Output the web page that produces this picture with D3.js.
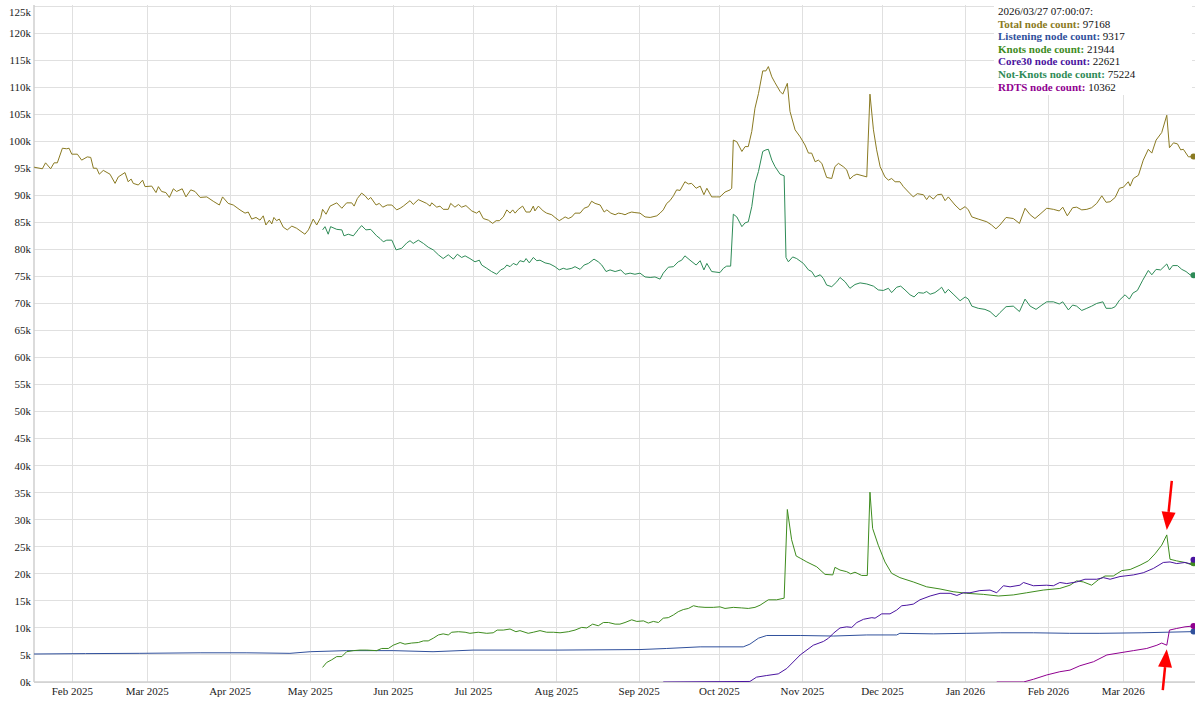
<!DOCTYPE html>
<html lang="en">
<head>
  <meta charset="utf-8">
  <title>Bitcoin node counts</title>
  <script src="https://d3js.org/d3.v7.min.js"></script>
  <style>
    body { margin: 0; background: #fff; }
    svg { display: block; font-family: "Liberation Serif", "Times New Roman", serif; }
    .grid line { stroke: #e0e0e0; stroke-width: 1; shape-rendering: crispEdges; }
    .axis-line { stroke: #cfcfcf; stroke-width: 1.5; }
    .tick-label { font-size: 11px; fill: #222; }
    .series { fill: none; stroke-width: 1; }
    .legend text { font-size: 11px; fill: #111; }
  </style>
</head>
<body>
<svg width="1200" height="702"></svg>
<script>
// points are [days since 2025-01-17 UTC, node count in thousands]
var totalData = [[0.7,95.2],[3.8,94.9],[5.0,96.0],[6.9,94.9],[8.2,96.0],[9.4,96.0],[11.3,98.7],[12.9,98.6],[13.8,98.7],[14.8,97.6],[16.9,97.6],[18.5,96.5],[20.6,97.1],[21.9,97.0],[22.9,95.0],[24.1,95.0],[25.1,93.9],[26.6,94.6],[29.1,93.9],[31.0,92.2],[32.2,93.4],[34.7,94.2],[35.9,92.5],[37.0,93.0],[37.8,92.2],[39.7,91.9],[41.3,92.8],[42.2,91.6],[44.7,91.7],[46.3,90.5],[47.2,91.6],[48.4,90.7],[50.0,90.5],[51.3,89.6],[52.8,91.2],[54.0,90.7],[56.1,91.2],[57.5,89.7],[59.3,91.0],[60.9,90.7],[62.8,89.6],[65.3,89.7],[67.7,88.9],[70.0,88.2],[71.2,89.7],[73.3,88.5],[75.2,88.2],[77.7,87.3],[79.6,86.7],[80.8,86.9],[82.1,85.6],[83.7,85.9],[85.2,85.4],[86.4,86.2],[87.4,84.5],[88.7,85.4],[89.6,84.7],[90.4,85.9],[91.4,85.3],[92.4,85.6],[93.9,84.1],[95.4,83.6],[97.1,84.3],[98.9,83.9],[102.0,82.8],[103.3,83.6],[105.1,85.6],[106.4,84.5],[107.9,85.9],[108.6,87.4],[109.9,86.5],[111.4,88.0],[113.9,88.6],[115.8,87.6],[117.6,88.6],[119.5,88.6],[120.4,88.0],[121.6,89.4],[123.2,90.4],[124.5,89.9],[125.7,89.2],[126.6,89.6],[128.6,88.2],[129.8,88.5],[131.1,87.8],[132.8,88.2],[134.5,88.2],[136.3,87.3],[137.6,87.6],[138.8,88.0],[141.3,89.0],[142.5,88.3],[144.4,89.2],[147.5,88.5],[148.8,88.0],[149.4,88.6],[151.3,87.8],[152.5,88.0],[153.7,87.4],[155.6,87.4],[156.5,88.5],[158.1,87.8],[159.4,88.3],[160.6,87.8],[162.2,88.1],[164.4,87.1],[166.2,86.7],[167.2,87.1],[168.7,85.7],[170.6,85.4],[172.2,84.8],[173.5,85.3],[174.7,85.3],[176.2,86.0],[177.5,87.3],[178.7,86.7],[179.7,87.3],[180.6,86.7],[181.8,87.4],[183.4,88.0],[184.7,86.9],[186.2,86.9],[187.4,88.0],[188.0,87.1],[189.3,88.0],[191.1,87.1],[192.4,86.7],[194.3,86.4],[195.5,85.9],[197.1,85.3],[198.4,85.7],[199.3,86.0],[200.5,85.7],[201.8,86.0],[203.0,86.7],[204.9,86.7],[206.4,87.6],[208.0,87.9],[209.2,88.9],[210.5,88.5],[212.4,88.2],[213.9,86.9],[214.9,87.3],[216.4,86.7],[218.0,86.4],[219.2,86.7],[220.5,86.6],[221.7,86.4],[222.9,86.7],[224.2,86.9],[225.4,86.8],[227.3,86.7],[229.2,86.0],[231.1,85.9],[233.6,86.2],[234.8,86.7],[236.0,87.3],[237.3,88.5],[238.5,89.0],[239.8,89.9],[241.0,91.0],[242.3,90.9],[244.1,92.5],[245.4,92.1],[246.6,92.2],[248.3,91.3],[249.8,91.7],[251.2,90.1],[252.3,91.3],[254.1,89.7],[256.0,89.7],[257.2,89.7],[259.1,90.6],[261.0,91.0],[261.6,91.3],[262.2,100.2],[263.5,99.9],[265.4,98.1],[266.6,99.0],[267.8,99.0],[269.1,101.8],[270.3,106.1],[271.6,108.8],[273.2,113.0],[274.4,113.0],[275.3,113.8],[276.6,111.9],[277.8,110.8],[279.7,109.2],[280.7,108.7],[282.4,110.7],[283.4,105.5],[285.3,102.1],[287.2,100.8],[289.0,99.3],[290.3,97.8],[291.5,97.8],[292.8,96.2],[294.0,96.5],[295.3,95.9],[297.1,93.3],[299.0,93.1],[300.2,95.3],[301.5,95.9],[303.3,95.3],[304.6,94.7],[305.8,93.0],[307.1,93.6],[308.4,93.9],[312.1,93.4],[313.3,108.7],[314.6,102.1],[315.8,98.4],[317.1,95.3],[318.9,93.4],[320.2,92.8],[321.4,93.1],[322.7,92.5],[324.5,92.5],[325.8,91.6],[327.7,90.6],[329.5,89.7],[331.0,90.3],[333.3,90.1],[334.5,89.2],[335.5,89.9],[337.0,89.3],[338.5,90.1],[340.1,90.2],[341.4,89.0],[342.6,89.7],[345.1,88.2],[347.0,87.3],[348.9,87.9],[350.1,87.3],[351.4,86.0],[353.8,85.6],[357.0,85.1],[358.8,84.5],[360.4,83.8],[361.9,84.5],[364.2,85.9],[366.9,85.7],[369.2,84.8],[371.3,87.6],[373.2,86.4],[375.0,85.7],[376.9,86.5],[379.4,87.6],[381.9,87.4],[384.1,87.1],[385.4,87.8],[387.1,86.2],[389.1,87.7],[390.6,87.8],[392.5,87.3],[394.4,87.4],[396.2,87.7],[398.1,88.5],[400.0,89.9],[401.6,88.7],[403.1,88.8],[405.0,89.6],[406.6,91.3],[408.1,91.5],[409.9,92.5],[410.6,91.7],[411.8,93.1],[413.7,93.7],[415.5,96.5],[417.4,98.5],[418.7,97.8],[420.3,100.2],[422.4,101.6],[424.3,104.8],[425.3,98.8],[426.8,99.7],[428.3,99.5],[429.5,98.4],[430.5,98.5],[432.4,97.1],[434.29,97.168]];

var listeningData = [[0.7,5.18],[20,5.25],[40,5.3],[62.8,5.4],[80,5.4],[96.4,5.3],[104,5.6],[117.6,5.8],[135,5.8],[149.9,5.6],[164.9,5.9],[196.2,5.9],[227.3,6.0],[237.3,6.2],[249.8,6.5],[265.9,6.5],[268.4,7.0],[271.6,8.1],[274.7,8.6],[287.2,8.6],[299.6,8.5],[312.1,8.7],[323.3,8.7],[324.5,9.0],[337,8.9],[349.5,9.0],[362,9.1],[374.4,9.1],[388,9.0],[399.3,9.0],[415,9.1],[434.29,9.317]];

var knotsData = [[108.6,2.7],[110.1,3.6],[112.0,4.1],[113.9,4.7],[115.8,4.7],[117.6,5.6],[120.1,5.8],[122.6,5.9],[125.1,5.9],[128.8,5.8],[130.7,6.2],[133.2,6.2],[135.0,6.8],[137.6,7.3],[139.4,7.0],[141.9,7.2],[144.4,7.3],[146.3,7.6],[148.1,7.6],[150.0,8.1],[151.9,8.7],[153.7,8.9],[155.6,8.7],[156.9,9.2],[159.4,9.3],[161.9,9.2],[163.7,9.0],[166.8,9.2],[170.0,9.0],[172.4,9.1],[173.9,9.6],[176.2,9.6],[178.7,9.8],[180.9,9.3],[182.4,9.5],[185.5,9.0],[187.4,9.2],[189.9,9.5],[192.4,9.2],[194.9,9.2],[197.4,9.1],[200.5,9.3],[203.0,9.6],[205.5,10.1],[207.4,10.0],[209.6,10.7],[211.7,10.4],[213.6,11.0],[215.5,11.0],[218.0,10.7],[219.8,10.7],[221.7,11.0],[224.2,11.5],[226.1,11.2],[228.6,11.3],[230.4,10.9],[232.3,11.2],[234.2,11.0],[236.0,11.8],[237.9,11.9],[239.8,12.4],[241.6,13.0],[243.5,13.4],[245.4,13.6],[247.3,14.1],[249.1,13.9],[251.6,13.8],[254.7,13.8],[257.2,13.9],[259.1,13.6],[262.2,13.8],[265.3,13.7],[267.8,13.6],[270.3,13.8],[272.2,14.2],[275.3,15.2],[278.4,15.2],[281.2,15.5],[282.4,31.9],[284.0,26.3],[285.7,23.3],[287.2,22.9],[289.7,22.2],[293.4,21.3],[296.5,19.9],[299.4,19.8],[300.2,21.2],[302.1,20.7],[304.6,20.4],[306.1,20.0],[307.7,20.3],[310.2,19.7],[312.3,19.7],[313.3,35.1],[314.3,28.4],[316.4,25.3],[318.9,22.2],[321.4,20.1],[324.5,19.3],[329.5,18.5],[334.5,17.6],[339.5,17.2],[344.4,16.7],[349.4,16.4],[355.7,16.2],[361.3,15.9],[366.9,16.1],[371.9,16.5],[378.1,17.0],[384.3,17.3],[388.1,17.9],[390.6,18.7],[393.1,18.5],[396.2,17.9],[398.7,18.9],[401.2,19.6],[404.3,19.6],[407.5,20.6],[410.6,20.8],[414.3,21.6],[417.4,22.4],[419.9,23.7],[422.4,25.3],[424.3,27.2],[425.5,22.7],[428.0,22.4],[431.1,22.1],[434.0,21.6],[434.29,21.944]];

var core30Data = [[236.0,0],[268.4,0.1],[270.9,0.9],[274.7,1.2],[279.0,1.5],[282.2,2.5],[287.2,5.0],[292.1,6.8],[295.9,7.5],[297.8,8.1],[299.6,9.0],[302.1,10.0],[304.6,10.2],[306.5,10.1],[308.4,11.0],[310.9,11.6],[314.0,11.9],[315.2,11.8],[317.7,12.6],[320.8,12.6],[323.3,13.3],[325.2,14.1],[327.1,14.2],[329.5,14.4],[332.0,15.2],[335.8,15.9],[339.5,16.4],[343.3,16.4],[345.8,16.0],[348.2,16.5],[350.7,16.5],[354.4,16.9],[358.2,17.0],[360.7,16.5],[363.2,17.8],[365.7,17.6],[369.4,17.9],[370.7,18.4],[374.4,17.8],[379.4,17.9],[381.9,17.8],[384.3,18.4],[386.9,18.2],[390.6,18.5],[393.7,19.0],[398.1,19.0],[400.6,19.3],[403.1,19.0],[406.8,19.5],[411.8,19.8],[415.5,20.2],[419.3,21.0],[423.0,22.1],[425.5,22.2],[428.0,21.9],[431.1,22.1],[433.6,21.8],[434.29,22.621]];

var notKnotsData = [[108.6,83.6],[109.5,84.2],[110.7,82.8],[111.6,84.2],[113.9,83.7],[115.8,83.6],[116.6,82.5],[118.2,82.8],[120.1,82.5],[122.0,83.7],[123.2,84.4],[124.8,83.6],[126.6,83.7],[128.8,82.5],[130.1,82.0],[131.3,81.4],[132.6,81.7],[134.5,81.7],[136.1,79.9],[138.2,80.2],[140.1,81.2],[141.3,81.6],[142.5,81.1],[144.4,81.7],[146.3,81.1],[148.1,80.4],[150.0,79.9],[151.9,79.0],[153.7,78.3],[155.6,79.0],[157.5,78.2],[159.0,79.1],[160.6,78.5],[161.9,78.8],[163.7,78.3],[165.6,77.7],[167.2,78.0],[168.1,77.1],[170.0,76.5],[171.8,75.9],[173.7,75.4],[175.2,76.2],[176.5,76.5],[177.5,77.1],[178.7,76.8],[179.9,77.4],[181.2,77.1],[182.4,77.9],[183.9,77.7],[184.7,78.3],[185.9,77.5],[187.4,78.5],[188.7,77.9],[189.9,78.0],[191.8,77.5],[193.6,77.3],[195.5,76.8],[197.1,76.2],[198.6,76.5],[199.9,76.3],[201.8,76.5],[203.0,76.8],[204.9,76.3],[206.4,77.1],[208.0,77.4],[210.1,78.2],[211.7,77.7],[213.0,77.1],[214.6,75.9],[216.1,76.2],[218.0,75.9],[220.1,76.2],[221.7,75.4],[223.6,75.6],[225.4,75.4],[227.3,75.6],[229.2,74.9],[231.1,74.8],[232.9,74.9],[234.8,74.5],[236.0,75.6],[237.9,76.7],[239.8,76.8],[241.6,77.7],[242.9,78.0],[244.1,78.8],[246.0,78.0],[248.3,77.1],[249.8,77.9],[251.2,76.2],[252.3,77.4],[254.1,75.9],[257.2,75.7],[258.5,76.5],[259.7,76.9],[261.2,76.9],[262.2,86.5],[263.5,86.0],[265.4,84.2],[266.6,84.9],[267.8,85.1],[269.1,87.9],[270.3,92.2],[271.6,94.4],[273.2,98.1],[274.4,98.4],[275.3,98.5],[276.6,96.5],[277.8,95.3],[279.7,93.9],[281.2,93.6],[281.9,78.5],[282.8,77.7],[284.4,78.6],[285.9,78.3],[288.4,77.4],[290.3,76.2],[291.5,75.9],[292.8,74.9],[294.7,75.3],[295.9,74.6],[297.1,73.4],[299.0,73.1],[300.9,74.0],[302.1,74.8],[304.0,74.0],[305.8,72.8],[307.7,73.5],[309.6,73.8],[312.1,73.6],[314.6,73.2],[316.4,72.5],[318.3,72.4],[320.2,72.8],[321.4,72.0],[323.3,73.0],[324.8,73.2],[326.4,72.5],[328.3,71.6],[329.8,71.2],[331.4,72.0],[333.3,71.9],[334.5,72.2],[335.8,71.7],[337.6,72.0],[339.2,72.6],[340.1,73.0],[341.4,71.9],[342.6,72.6],[344.7,71.6],[347.0,70.5],[348.9,71.2],[350.1,70.8],[351.4,69.5],[353.8,69.1],[356.3,68.9],[358.2,68.5],[360.4,67.5],[361.9,68.3],[364.2,69.4],[366.9,69.5],[369.2,68.5],[371.3,70.8],[373.2,69.5],[375.4,68.9],[377.6,69.7],[379.4,70.3],[381.9,70.3],[384.1,69.9],[385.4,70.3],[387.5,68.8],[389.1,69.7],[390.6,69.5],[392.5,68.7],[394.4,69.1],[396.2,69.5],[398.1,70.0],[400.4,70.3],[401.6,69.1],[403.7,69.1],[405.0,69.4],[406.6,70.6],[408.7,71.6],[410.3,70.8],[411.6,71.9],[413.3,72.4],[415.3,74.3],[417.4,76.1],[418.7,75.3],[420.3,76.3],[422.0,76.2],[424.3,77.3],[425.3,76.2],[426.5,77.0],[428.3,77.0],[429.9,76.3],[431.5,75.9],[433.0,75.3],[434.29,75.224]];

var rdtsData = [[360.7,0],[370.7,0],[374.4,0.5],[379.4,1.3],[384.3,1.9],[388.1,2.2],[391.8,3.0],[396.9,3.75],[401.9,5.0],[406.8,5.4],[411.8,5.8],[416.8,6.2],[420.6,6.8],[422.4,7.2],[424.3,6.8],[425.3,9.6],[428.0,9.9],[431.1,10.2],[434.29,10.362]];

var seriesNames = ["Total node count", "Listening node count", "Knots node count", "Core30 node count", "Not-Knots node count", "RDTS node count"];
var seriesColors = ["#8a7a22", "#30509c", "#3e8c1e", "#4a14a0", "#2e8b57", "#900090"];
var seriesData = [totalData, listeningData, knotsData, core30Data, notKnotsData, rdtsData];
var legendValues = [97168, 9317, 21944, 22621, 75224, 10362];
var legendStamp = "2026/03/27 07:00:07:";

var yTicks = d3.range(0, 126, 5);

// red arrows: [day, value in k, direction]
var arrows = [[424.3, 27.2, "down"], [424.3, 6.8, "up"]];

var START = Date.UTC(2025, 0, 17);
function toDate(day) { return new Date(START + day * 864e5); }

var svg = d3.select("svg"),
    plotLeft = 34, plotRight = 1194, plotTop = 5, plotBottom = 682;

var x = d3.scaleUtc()
    .domain([toDate(0.68), toDate(434.29)])
    .range([34, 1193.5]);

var y = d3.scaleLinear()
    .domain([0, 125])
    .range([682, 6]);

svg.append("defs").append("clipPath").attr("id", "plot")
  .append("rect")
    .attr("x", plotLeft).attr("y", plotTop)
    .attr("width", plotRight - plotLeft + 1).attr("height", plotBottom - plotTop);

// grid
var grid = svg.append("g").attr("class", "grid");

grid.selectAll(".h")
  .data(yTicks)
  .enter().append("line")
    .attr("x1", plotLeft).attr("x2", plotRight + 1)
    .attr("y1", d => y(d)).attr("y2", d => y(d));

var months = d3.utcMonth.range(x.domain()[0], x.domain()[1]);

grid.selectAll(".v")
  .data(months)
  .enter().append("line")
    .attr("x1", d => x(d)).attr("x2", d => x(d))
    .attr("y1", plotTop).attr("y2", plotBottom);

svg.append("line").attr("class", "axis-line")
  .attr("x1", plotLeft).attr("x2", plotLeft).attr("y1", plotTop).attr("y2", plotBottom);
svg.append("line").attr("class", "axis-line")
  .attr("x1", plotLeft).attr("x2", plotRight + 1).attr("y1", plotBottom).attr("y2", plotBottom);

// tick labels
svg.append("g").selectAll("text")
  .data(yTicks)
  .enter().append("text")
    .attr("class", "tick-label")
    .attr("text-anchor", "end")
    .attr("x", 31)
    .attr("y", d => Math.max(y(d), 12))
    .attr("dy", "0.35em")
    .text(d => d + "k");

var fmt = d3.utcFormat("%b %Y");
svg.append("g").selectAll("text")
  .data(months)
  .enter().append("text")
    .attr("class", "tick-label")
    .attr("text-anchor", "middle")
    .attr("x", d => x(d))
    .attr("y", 695)
    .text(d => fmt(d));

// lines
var line = d3.line()
  .x(d => x(toDate(d[0])))
  .y(d => y(d[1]));

var plot = svg.append("g").attr("clip-path", "url(#plot)");

plot.selectAll("path")
  .data(seriesData)
  .enter().append("path")
    .attr("class", "series")
    .attr("stroke", (d, i) => seriesColors[i])
    .attr("d", line);

// highlighted last points
plot.selectAll("circle")
  .data(seriesData)
  .enter().append("circle")
    .attr("r", 3)
    .attr("fill", (d, i) => seriesColors[i])
    .attr("cx", d => x(toDate(d[d.length - 1][0])))
    .attr("cy", d => y(d[d.length - 1][1]));

// arrows
var arrowG = svg.append("g");
arrows.forEach(function(a) {
  var tx = x(toDate(a[0])), ty = y(a[1]);
  var down = a[2] == "down";
  var tipY = down ? ty - 5 : ty + 4;
  var tailX = tx + (down ? 5 : -4);
  var tailY = down ? tipY - 49 : tipY + 41;
  var headLen = 18, headW = 7;
  var dx = tx - tailX, dy = tipY - tailY, len = Math.sqrt(dx * dx + dy * dy);
  var ux = dx / len, uy = dy / len;
  var bx = tx - ux * headLen, by = tipY - uy * headLen;
  arrowG.append("line")
    .attr("x1", tailX).attr("y1", tailY)
    .attr("x2", bx).attr("y2", by)
    .attr("stroke", "#ff0000").attr("stroke-width", 2.5);
  arrowG.append("path")
    .attr("fill", "#ff0000")
    .attr("d", "M" + tx + "," + tipY +
      "L" + (bx - uy * headW) + "," + (by + ux * headW) +
      "L" + (bx + uy * headW) + "," + (by - ux * headW) + "Z");
});

// legend
var legend = svg.append("g").attr("class", "legend");
legend.append("rect")
  .attr("x", 994).attr("y", 0)
  .attr("width", 198).attr("height", 95)
  .attr("fill", "#fff");

legend.append("text")
  .attr("x", 998).attr("y", 15)
  .text(legendStamp);

seriesNames.forEach(function(name, i) {
  var t = legend.append("text")
    .attr("x", 998)
    .attr("y", 15 + (i + 1) * 12.6);
  t.append("tspan")
    .attr("font-weight", "bold")
    .attr("fill", seriesColors[i])
    .text(name + ":");
  t.append("tspan")
    .text(" " + legendValues[i]);
});
</script>
</body>
</html>
